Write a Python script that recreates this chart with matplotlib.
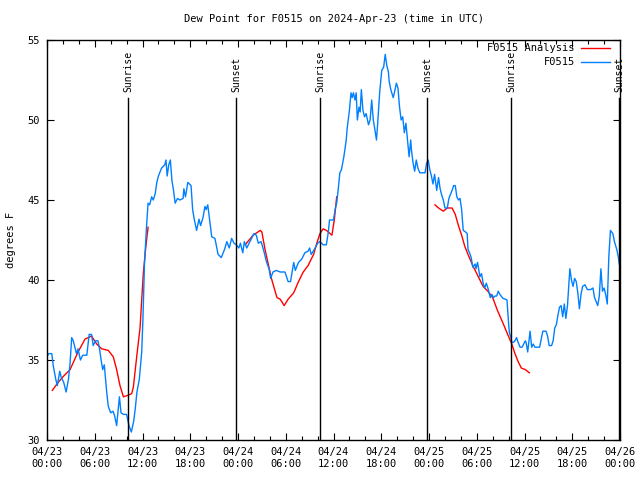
import matplotlib
matplotlib.use('Agg')
import matplotlib.pyplot as plt
import matplotlib.dates as mdates
import numpy as np
import pandas as pd

## Hours since 2024-04-23 00:00 UTC and dew point (F)
obs_hours = [0.0, 0.2, 0.6, 0.8, 1.1, 1.3, 1.6, 1.8, 2.1, 2.4, 2.7, 2.9, 3.1, 3.3, 3.5, 3.7, 3.9, 4.2, 4.5, 5.0,
             5.3, 5.6, 5.8, 6.1, 6.4, 6.6, 6.8, 7.0, 7.2, 7.5, 7.7, 8.0, 8.3, 8.5, 8.75, 9.1, 9.3, 9.6, 10.0, 10.3,
             10.6, 10.9, 11.1, 11.3, 11.6, 11.9, 12.05, 12.25, 12.5, 12.7, 12.9, 13.15, 13.35, 13.6, 13.8, 14.0, 14.4, 14.8, 14.95, 15.1,
             15.3, 15.5, 15.7, 15.9, 16.1, 16.4, 16.7, 17.1, 17.2, 17.4, 17.7, 18.1, 18.3, 18.5, 18.8, 19.1, 19.3, 19.6, 19.85, 20.0,
             20.2, 20.4, 20.7, 21.1, 21.5, 21.9, 22.3, 22.6, 22.9, 23.2, 23.5, 23.8, 24.1, 24.3, 24.6, 24.8, 25.1, 25.5, 26.0, 26.3,
             26.55, 26.9, 27.2, 27.6, 27.9, 28.1, 28.4, 28.8, 29.3, 29.9, 30.3, 30.6, 31.0, 31.2, 31.6, 32.0, 32.4, 32.8, 33.0, 33.2,
             33.7, 34.0, 34.3, 34.7, 35.1, 35.35, 35.5, 36.0, 36.2, 36.4, 36.6, 36.8, 37.0, 37.3, 37.6, 37.7, 38.0, 38.2, 38.35, 38.5,
             38.7, 38.85, 39.0, 39.2, 39.35, 39.5, 39.7, 39.9, 40.1, 40.4, 40.6, 40.8, 41.0, 41.2, 41.4, 41.5, 41.8, 42.06, 42.3, 42.5,
             42.7, 42.9, 43.0, 43.2, 43.5, 43.65, 43.9, 44.1, 44.3, 44.5, 44.7, 44.9, 45.1, 45.3, 45.5, 45.7, 45.8, 46.0, 46.2, 46.4,
             46.6, 46.85, 47.5, 47.7, 47.9, 48.1, 48.3, 48.5, 48.7, 48.97, 49.2, 49.4, 49.6, 49.8, 50.0, 50.3, 50.5, 50.9, 51.1, 51.3,
             51.5, 51.7, 51.9, 52.1, 52.3, 52.6, 52.8, 52.9, 53.1, 53.3, 53.5, 53.8, 53.9, 54.1, 54.4, 54.6, 54.8, 55.0, 55.2, 55.4,
             55.7, 55.9, 56.1, 56.3, 56.5, 56.7, 56.9, 57.3, 57.6, 57.8, 58.0, 58.1, 58.3, 58.4, 58.6, 58.8, 59.0, 59.2, 59.45, 59.7,
             59.9, 60.1, 60.2, 60.4, 60.6, 60.7, 60.9, 61.1, 61.3, 61.7, 61.9, 62.1, 62.3, 62.7, 62.9, 63.1, 63.4, 63.6, 63.8, 64.0,
             64.2, 64.4, 64.6, 64.8, 65.0, 65.2, 65.4, 65.6, 65.7, 65.9, 66.1, 66.3, 66.5, 66.7, 66.9, 67.1, 67.3, 67.6, 67.9, 68.3,
             68.6, 68.8, 69.2, 69.4, 69.6, 69.8, 70.0, 70.2, 70.4, 70.6, 70.8, 71.1, 71.3, 71.6, 71.8, 71.9]
obs_dewpt = [35.2, 35.4, 35.4, 34.6, 33.8, 33.4, 34.3, 33.9, 33.6, 33.0, 33.8, 34.8, 36.4, 36.2, 35.8, 35.4, 35.7, 35.0, 35.3, 35.3,
             36.6, 36.6, 35.9, 36.2, 36.2, 35.7, 35.0, 34.4, 34.7, 33.0, 32.1, 31.7, 31.8, 31.5, 30.9, 32.7, 31.7, 31.6, 31.6, 30.9,
             30.5, 31.2, 32.0, 33.0, 33.8, 35.5, 37.5, 41.0, 43.3, 44.8, 44.7, 45.2, 45.0, 45.4, 46.1, 46.5, 47.0, 47.2, 47.5, 46.5,
             47.2, 47.5, 46.2, 45.6, 44.8, 45.1, 45.0, 45.1, 45.7, 45.2, 46.1, 45.9, 44.4, 43.8, 43.1, 43.8, 43.4, 43.9, 44.6, 44.4,
             44.7, 43.9, 42.7, 42.6, 41.6, 41.4, 41.9, 42.4, 42.0, 42.6, 42.3, 42.2, 42.0, 42.3, 41.7, 42.4, 42.0, 42.4, 42.9, 42.8,
             42.3, 42.4, 41.9, 41.1, 40.7, 40.1, 40.5, 40.6, 40.5, 40.5, 39.9, 39.9, 41.1, 40.6, 41.1, 41.3, 41.7, 41.8, 42.0, 41.6,
             42.0, 42.3, 42.4, 42.2, 42.2, 43.0, 43.75, 43.75, 44.4, 44.8, 45.7, 46.7, 46.9, 47.7, 48.75, 49.4, 50.6, 51.7, 51.4, 51.7,
             51.25, 51.7, 50.0, 50.8, 50.5, 51.9, 50.6, 50.2, 50.4, 49.7, 50.0, 51.25, 50.0, 49.4, 48.75, 49.4, 51.7, 53.1, 53.3, 54.1,
             53.4, 53.0, 52.4, 51.9, 51.4, 51.7, 52.3, 52.0, 50.8, 50.0, 50.2, 49.2, 49.8, 48.75, 47.7, 48.75, 48.1, 47.3, 46.8, 47.5,
             47.0, 46.7, 46.7, 47.3, 47.5, 46.9, 46.5, 46.0, 46.6, 45.6, 46.4, 45.7, 45.3, 45.0, 44.5, 44.5, 45.1, 45.6, 45.9, 45.9,
             45.2, 45.0, 45.1, 44.4, 43.1, 43.0, 42.9, 41.9, 41.7, 41.4, 40.8, 41.0, 40.7, 41.1, 40.2, 40.4, 39.8, 39.5, 39.8, 39.5,
             38.9, 39.1, 38.9, 39.0, 39.0, 39.3, 39.1, 38.85, 38.8, 38.75, 37.3, 36.7, 36.4, 36.1, 36.1, 36.2, 36.4, 36.1, 35.8, 35.8,
             36.0, 36.2, 36.1, 35.5, 36.4, 36.8, 35.8, 36.0, 35.8, 35.8, 35.8, 36.3, 36.8, 36.8, 36.5, 35.9, 35.9, 36.2, 37.0, 37.2,
             37.8, 38.3, 38.4, 37.7, 38.5, 37.6, 38.4, 39.9, 40.7, 40.0, 39.6, 40.1, 39.9, 39.2, 38.2, 39.1, 39.6, 39.7, 39.4, 39.4,
             39.5, 38.9, 38.4, 39.0, 40.7, 39.3, 39.5, 39.1, 38.5, 41.5, 43.1, 42.9, 42.4, 41.9, 41.4, 41.0]

## Analysis curve, NaN marks the gaps between the three runs
ana_hours = [0.67, 1.4, 2.1, 2.9, 3.9, 4.77, 5.6, 6.24, 6.87, 7.7, 8.33, 8.75, 9.17, 9.6, 10.2, 10.64, 10.85, 11.27, 11.69, 12.1,
             12.4, 12.7, 18.0,
             24.9, 25.9, 26.8, 27.0, 27.4, 27.8, 28.2, 28.6, 28.9, 29.3, 29.8, 30.3, 31.0, 31.6, 32.2, 32.8, 33.5, 33.9, 34.3,
             34.7, 35.1, 35.35, 35.8, 36.1, 36.4, 42.0,
             48.75, 49.2, 49.8, 50.3, 50.9, 51.3, 51.7, 52.1, 52.5, 52.9, 53.5, 54.1, 54.8, 55.4, 56.0, 56.6, 57.3, 57.8, 58.4,
             58.8, 59.2, 59.6, 60.1, 60.6]
ana_dewpt = [33.1, 33.6, 34.0, 34.4, 35.5, 36.3, 36.5, 36.0, 35.7, 35.6, 35.2, 34.4, 33.4, 32.7, 32.8, 32.9, 33.3, 35.2, 37.0, 40.4,
             42.0, 43.3, np.nan,
             42.2, 42.8, 43.1, 43.0, 41.9, 41.0, 40.1, 39.4, 38.9, 38.8, 38.4, 38.8, 39.2, 39.9, 40.5, 40.9, 41.6, 42.3, 42.9,
             43.2, 43.1, 43.0, 42.8, 43.75, 45.2, np.nan,
             44.7, 44.5, 44.3, 44.5, 44.5, 44.1, 43.4, 42.8, 42.1, 41.6, 40.9, 40.3, 39.6, 39.3, 38.9, 38.1, 37.3, 36.7, 36.0,
             35.4, 34.9, 34.5, 34.4, 34.2]

sun_hours = [10.18, 23.75, 34.3, 47.75, 58.3, 71.9]
sun_labels = ['Sunrise', 'Sunset', 'Sunrise', 'Sunset', 'Sunrise', 'Sunset']

start = pd.Timestamp('2024-04-23 00:00')
obs_t = start + pd.to_timedelta(obs_hours, unit='h')
ana_t = start + pd.to_timedelta(ana_hours, unit='h')
sun_t = start + pd.to_timedelta(sun_hours, unit='h')

plt.rcParams['font.family'] = ['DejaVu Sans Mono']
plt.rcParams['font.size'] = 7

fig = plt.figure(figsize=(6.4, 4.8), dpi=100)
ax = fig.add_axes([47/640, 1-440/480, 573/640, 400/480])

ax.plot(ana_t, ana_dewpt, color='#ff0000', lw=1.0)
ax.plot(obs_t, obs_dewpt, color='#0080ff', lw=1.0)

## Sunrise / sunset markers
for t, lab in zip(sun_t, sun_labels):
    ax.plot([t, t], [0, 0.855], color='black', lw=1.0, transform=ax.get_xaxis_transform())
    ax.text(t, 0.87, lab, rotation=90, ha='center', va='bottom', fontsize=7,
            transform=ax.get_xaxis_transform())

ax.set_xlim(start, start + pd.Timedelta(hours=72))
ax.set_ylim(30, 55)
ax.set_yticks([30, 35, 40, 45, 50, 55])
ax.xaxis.set_major_locator(mdates.HourLocator(byhour=[0, 6, 12, 18]))
ax.xaxis.set_minor_locator(mdates.HourLocator(interval=2))
ax.xaxis.set_major_formatter(mdates.DateFormatter('%m/%d\n%H:%M'))
ax.tick_params(which='both', direction='in', top=True, right=True, labelsize=7.5, width=0.8)
ax.tick_params(which='major', length=5, pad=5)
ax.tick_params(which='minor', length=3)
for s in ax.spines.values():
    s.set_linewidth(1.0)

ax.set_ylabel('degrees F', fontsize=7.5, labelpad=8)
ax.set_title('Dew Point for F0515 on 2024-Apr-23 (time in UTC)', fontsize=7.5, pad=13)

## Legend drawn gnuplot style: right aligned text, sample to the right
for yy, lab, col in [(0.98, 'F0515 Analysis', '#ff0000'), (0.945, 'F0515', '#0080ff')]:
    ax.text(0.921, yy, lab, ha='right', va='center', fontsize=7.5, transform=ax.transAxes)
    ax.plot([0.932, 0.982], [yy, yy], color=col, lw=1.0, transform=ax.transAxes)

fig.savefig('out.png', dpi=100)
